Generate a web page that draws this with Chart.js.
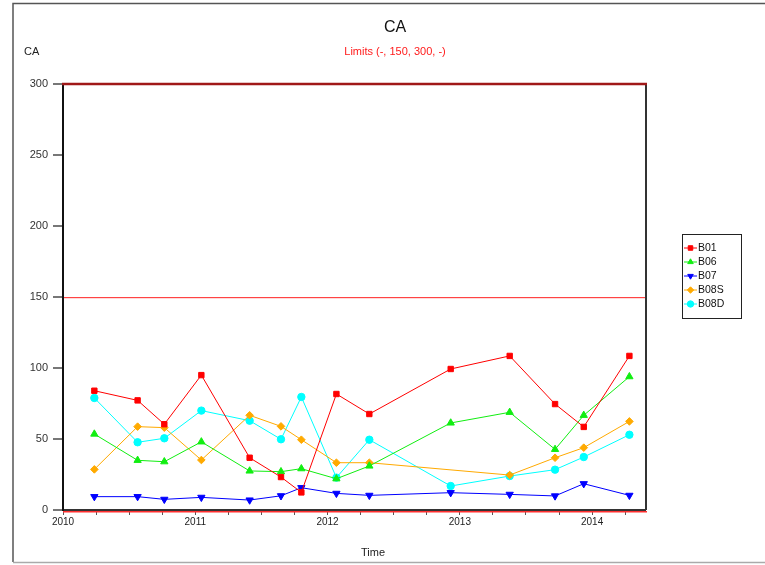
<!DOCTYPE html>
<html>
<head>
<meta charset="utf-8">
<title>CA</title>
<script src="https://cdn.jsdelivr.net/npm/chart.js@4.4.0/dist/chart.umd.min.js"></script>
<style>
    html, body { margin: 0; padding: 0; background: #fff; }
    #chartWrap { width: 765px; height: 565px; position: relative; }
</style>
</head>
<body>
<div id="chartWrap"><canvas id="caChart" width="765" height="565"></canvas></div>
<script>
// sampling dates as decimal years
const sampleDates = [2010.237, 2010.564, 2010.766, 2011.046, 2011.411, 2011.648, 2011.802,
    2012.067, 2012.316, 2012.931, 2013.377, 2013.720, 2013.937, 2014.282];

const b01 = [84, 77.2, 60.4, 95, 36.8, 23.2, 12.4, 81.7, 67.6, 99.3, 108.5, 74.6, 58.5, 108.5];
const b06 = [53.5, 35, 34, 48, 27.5, 27, 29.1, 22, 31, 61.3, 68.8, 42.7, 66.7, 93.9];
const b07 = [9.4, 9.4, 7.5, 8.9, 7, 10, 15.7, 11.7, 10.3, 12.2, 11, 9.9, 18.5, 10.3];
const b08s = [28.6, 58.7, 58, 35.2, 66.7, 58.9, 49.5, 33.3, 33.3, null, 24.6, 36.8, 43.9, 62.4];
const b08d = [78.9, 47.7, 50.5, 70, 62.9, 49.8, 79.6, 22.8, 49.5, 16.9, 23.9, 28.4, 37.3, 53];

const seriesNames = ['B01', 'B06', 'B07', 'B08S', 'B08D'];
const limits = [150, 300];

const xTickValues = [2010, 2010.25, 2010.5, 2010.75, 2011, 2011.25, 2011.5, 2011.75,
    2012, 2012.25, 2012.5, 2012.75, 2013, 2013.25, 2013.5, 2013.75, 2014, 2014.25];
const yTickValues = [0, 50, 100, 150, 200, 250, 300];

const FONT = '"Liberation Sans", Arial, sans-serif';

function toPoints(values) {
    return sampleDates.map(function (d, i) { return { x: d, y: values[i] }; });
}

function makeSet(name, values, color, style, rotation, radius) {
    return {
        label: name,
        data: toPoints(values),
        borderColor: color,
        backgroundColor: color,
        borderWidth: 1,
        pointStyle: style,
        rotation: rotation,
        pointRadius: radius,
        pointBorderWidth: 1,
        spanGaps: true,
        tension: 0
    };
}

const datasets = [
    makeSet(seriesNames[0], b01, '#ff0000', 'rect', 0, 3.8),
    makeSet(seriesNames[1], b06, '#11ee11', 'triangle', 0, 4.2),
    makeSet(seriesNames[2], b07, '#0000ff', 'triangle', 180, 4.2),
    makeSet(seriesNames[3], b08s, '#ffaa00', 'rectRot', 0, 3.8),
    makeSet(seriesNames[4], b08d, '#00ffff', 'circle', 0, 3.7)
];

// page frame, limit lines, box edges and texts
const decorPlugin = {
    id: 'decor',
    beforeDraw: function (chart) {
        const ctx = chart.ctx;
        ctx.save();
        ctx.fillStyle = '#fff';
        ctx.fillRect(0, 0, chart.width, chart.height);
        ctx.lineWidth = 1.5;
        ctx.strokeStyle = '#555';
        ctx.beginPath();
        ctx.moveTo(13, 562);
        ctx.lineTo(13, 3.5);
        ctx.lineTo(765, 3.5);
        ctx.stroke();
        ctx.strokeStyle = '#aaa';
        ctx.beginPath();
        ctx.moveTo(13, 562.5);
        ctx.lineTo(765, 562.5);
        ctx.stroke();
        ctx.restore();
    },
    afterDraw: function (chart) {
        const ctx = chart.ctx;
        const a = chart.chartArea;
        const y = chart.scales.y;
        ctx.save();
        // 150 limit
        const y150 = Math.round(y.getPixelForValue(limits[0]));
        ctx.fillStyle = '#ff4444';
        ctx.fillRect(a.left + 1, y150, a.right - a.left, 1.2);
        // right edge
        ctx.strokeStyle = '#333';
        ctx.lineWidth = 2;
        ctx.beginPath();
        ctx.moveTo(a.right + 1, a.top);
        ctx.lineTo(a.right + 1, a.bottom);
        ctx.stroke();
        // 300 limit
        ctx.strokeStyle = '#a01818';
        ctx.lineWidth = 2.5;
        ctx.beginPath();
        ctx.moveTo(a.left - 1, y.getPixelForValue(limits[1]));
        ctx.lineTo(a.right + 2, y.getPixelForValue(limits[1]));
        ctx.stroke();
        // red line under the axis
        ctx.strokeStyle = '#ff3030';
        ctx.lineWidth = 1.5;
        ctx.beginPath();
        ctx.moveTo(a.left, a.bottom + 1.8);
        ctx.lineTo(a.right + 2, a.bottom + 1.8);
        ctx.stroke();

        // texts
        ctx.textBaseline = 'middle';
        ctx.textAlign = 'center';
        ctx.fillStyle = '#111';
        ctx.font = '16px ' + FONT;
        ctx.fillText('CA', 395, 28);
        ctx.fillStyle = '#ff1a1a';
        ctx.font = '11px ' + FONT;
        ctx.fillText('Limits (-, 150, 300, -)', 395, 52);
        ctx.fillStyle = '#222';
        ctx.fillText('Time', 373, 553);
        ctx.textAlign = 'left';
        ctx.fillText('CA', 24, 52);

        // legend
        ctx.fillStyle = '#fff';
        ctx.fillRect(682, 234, 59, 84);
        ctx.strokeStyle = '#222';
        ctx.lineWidth = 1;
        ctx.strokeRect(682.5, 234.5, 59, 84);
        ctx.font = '10.5px ' + FONT;
        chart.data.datasets.forEach(function (ds, i) {
            const ly = 248 + i * 14;
            ctx.strokeStyle = ds.borderColor;
            ctx.fillStyle = ds.backgroundColor;
            ctx.lineWidth = 1;
            ctx.beginPath();
            ctx.moveTo(684, ly);
            ctx.lineTo(697, ly);
            ctx.stroke();
            Chart.helpers.drawPoint(ctx, {
                pointStyle: ds.pointStyle,
                rotation: ds.rotation,
                radius: 3.2,
                borderWidth: 1
            }, 690.5, ly);
            ctx.fillStyle = '#111';
            ctx.textAlign = 'left';
            ctx.fillText(ds.label, 698, ly + 0.5);
        });
        ctx.restore();
    }
};

const chart = new Chart(document.getElementById('caChart').getContext('2d'), {
    type: 'line',
    data: { datasets: datasets },
    options: {
        responsive: false,
        animation: false,
        devicePixelRatio: 1,
        layout: { padding: { top: 84, right: 120, bottom: 0, left: 0 } },
        plugins: {
            legend: { display: false },
            tooltip: { enabled: false }
        },
        scales: {
            x: {
                type: 'linear',
                min: 2010,
                max: 2014.4,
                afterBuildTicks: function (scale) {
                    scale.ticks = xTickValues.map(function (v) { return { value: v }; });
                },
                afterFit: function (scale) { scale.height = 55; },
                ticks: {
                    autoSkip: false,
                    maxRotation: 0,
                    padding: 1,
                    color: '#222',
                    font: { family: FONT, size: 10 },
                    callback: function (v) { return Number.isInteger(v) ? String(v) : ''; }
                },
                grid: { drawOnChartArea: false, tickLength: 5, color: '#555', lineWidth: 1 },
                border: { color: '#333', width: 2 }
            },
            y: {
                min: 0,
                max: 300,
                afterBuildTicks: function (scale) {
                    scale.ticks = yTickValues.map(function (v) { return { value: v }; });
                },
                afterFit: function (scale) { scale.width = 63; },
                ticks: {
                    padding: 5,
                    color: '#333',
                    font: { family: FONT, size: 11 }
                },
                grid: { drawOnChartArea: false, tickLength: 10, color: '#777', lineWidth: 2 },
                border: { color: '#111', width: 2 }
            }
        }
    },
    plugins: [decorPlugin]
});
</script>
</body>
</html>
